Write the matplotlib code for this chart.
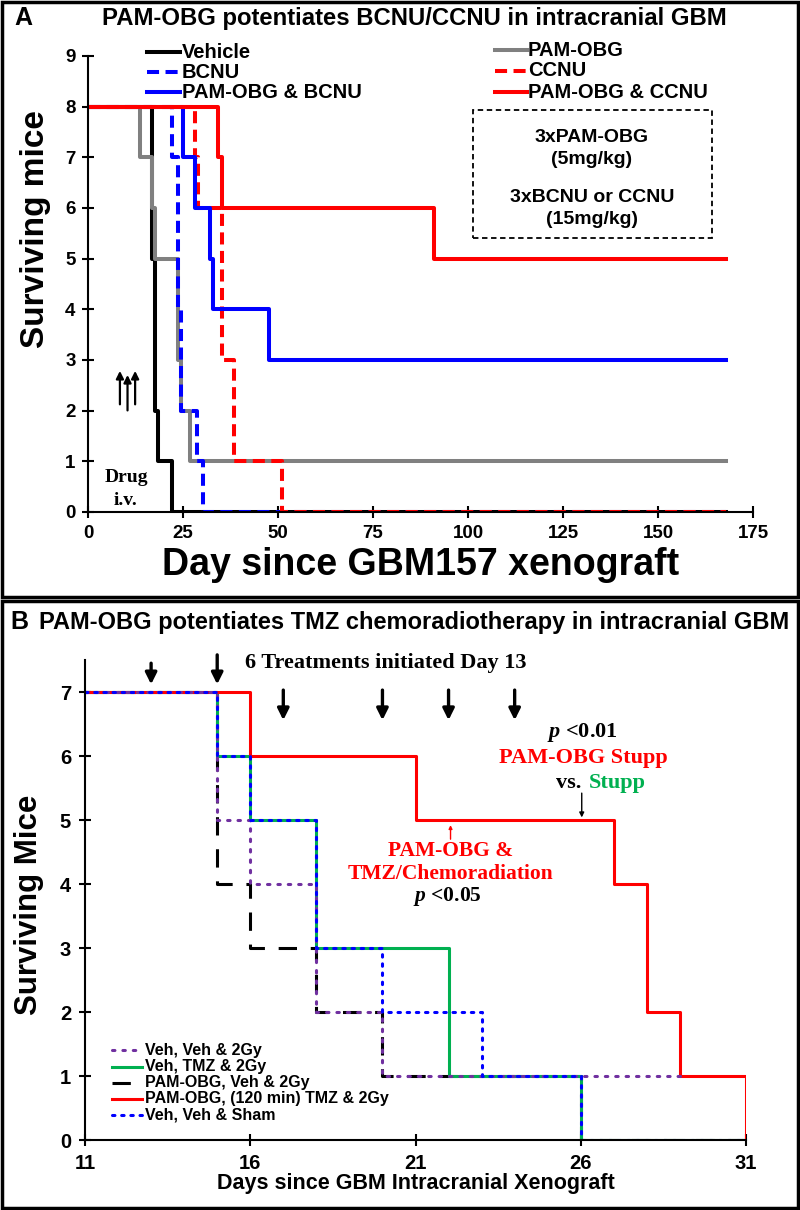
import matplotlib
matplotlib.use("Agg")
import matplotlib.pyplot as plt
from matplotlib.lines import Line2D
from matplotlib.patches import Rectangle

plt.rcParams['font.family'] = ['Liberation Sans', 'DejaVu Sans']
plt.rcParams['mathtext.fontset'] = 'custom'
plt.rcParams['mathtext.it'] = 'Liberation Serif:italic:bold'
plt.rcParams['mathtext.rm'] = 'Liberation Serif:bold'
SERIF = ['Liberation Serif', 'DejaVu Serif']

# ---------------- Panel A data ----------------
a_title = "PAM-OBG potentiates BCNU/CCNU in intracranial GBM"
a_end = 168
vehicle_t = [0, 16.8, 17.6, 18.4, 22.0, a_end]
vehicle_v = [8, 5, 2, 1, 0, 0]
pamobg_t = [0, 13.7, 16.8, 17.6, 23.8, 24.5, 26.8, a_end]
pamobg_v = [8, 7, 6, 5, 3, 2, 1, 1]
bcnu_t = [0, 22.0, 23.8, 24.5, 28.6, 30.2, a_end]
bcnu_v = [8, 7, 4, 2, 1, 0, 0]
ccnu_t = [0, 28.2, 29.0, 35.2, 37.8, 38.4, 51.0, a_end]
ccnu_v = [8, 7, 6, 3, 3, 1, 0, 0]
pam_bcnu_t = [0, 25.1, 28.2, 32.1, 33.0, 47.5, a_end]
pam_bcnu_v = [8, 7, 6, 5, 4, 3, 3]
pam_ccnu_t = [0, 34.2, 35.2, 91.0, a_end]
pam_ccnu_v = [8, 7, 6, 5, 5]
a_xticks = [0, 25, 50, 75, 100, 125, 150, 175]
a_yticks = list(range(0, 10))
a_legend_col1 = ['Vehicle', 'BCNU', 'PAM-OBG & BCNU']
a_legend_col2 = ['PAM-OBG', 'CCNU', 'PAM-OBG & CCNU']
a_box_lines = ['3xPAM-OBG', '(5mg/kg)', '3xBCNU or CCNU', '(15mg/kg)']

# ---------------- Panel B data ----------------
b_title = "PAM-OBG potentiates TMZ chemoradiotherapy in intracranial GBM"
veh_veh_2gy_t = [11, 15, 16, 18, 20, 29]
veh_veh_2gy_v = [7, 5, 4, 2, 1, 1]
veh_tmz_2gy_t = [11, 15, 16, 18, 22, 26, 31]
veh_tmz_2gy_v = [7, 6, 5, 3, 1, 0, 0]
pam_veh_2gy_t = [11, 15, 16, 18, 20, 26, 31]
pam_veh_2gy_v = [7, 4, 3, 2, 1, 0, 0]
pam_tmz_2gy_t = [11, 16, 21, 27, 28, 29, 31, 31]
pam_tmz_2gy_v = [7, 6, 5, 4, 2, 1, 0, 0]
veh_veh_sham_t = [11, 15, 16, 18, 20, 23, 26, 31]
veh_veh_sham_v = [7, 6, 5, 3, 2, 1, 0, 0]
treatment_days = [13, 15, 17, 20, 22, 24]
b_xticks = [11, 16, 21, 26, 31]
b_yticks = list(range(0, 8))
b_legend = ['Veh, Veh & 2Gy', 'Veh, TMZ & 2Gy', 'PAM-OBG, Veh & 2Gy',
            'PAM-OBG, (120 min) TMZ & 2Gy', 'Veh, Veh & Sham']

W, H = 800, 1210
fig = plt.figure(figsize=(W / 100, H / 100), dpi=100)


def fx(px):
    return px / W


def fy(py):
    return 1 - py / H


# panel borders
for (y0, y1) in [(2, 597), (601, 1208)]:
    fig.add_artist(Rectangle((fx(2), fy(y1)), fx(796), (y1 - y0) / H,
                             transform=fig.transFigure, fill=False, lw=2.5, ec='black'))

# ================= Panel A =================
axA = fig.add_axes([fx(88), fy(512), fx(753 - 88), (512 - 56) / H])
lwA = 2.9
styleA = {
    'Vehicle': dict(color='black', lw=lwA),
    'PAM-OBG': dict(color='#808080', lw=lwA),
    'BCNU': dict(color='#0000ff', lw=lwA, ls=(0, (3, 1.6))),
    'CCNU': dict(color='#ff0000', lw=lwA, ls=(0, (3, 1.6))),
    'PAM-OBG & BCNU': dict(color='#0000ff', lw=lwA),
    'PAM-OBG & CCNU': dict(color='#ff0000', lw=lwA),
}
axA.step(vehicle_t, vehicle_v, where='post', **styleA['Vehicle'])
axA.step(pamobg_t, pamobg_v, where='post', **styleA['PAM-OBG'])
axA.step(bcnu_t, bcnu_v, where='post', **styleA['BCNU'])
axA.step(ccnu_t, ccnu_v, where='post', **styleA['CCNU'])
axA.step(pam_bcnu_t, pam_bcnu_v, where='post', **styleA['PAM-OBG & BCNU'])
axA.step(pam_ccnu_t, pam_ccnu_v, where='post', **styleA['PAM-OBG & CCNU'])
axA.set_xlim(0, 175)
axA.set_ylim(0, 9)
axA.set_xticks(a_xticks)
axA.set_yticks(a_yticks)
for s in ['top', 'right']:
    axA.spines[s].set_visible(False)
for s in ['left', 'bottom']:
    axA.spines[s].set_linewidth(1.5)
axA.tick_params(direction='inout', length=8, width=1.5, labelsize=13.5, pad=5)
for lab in axA.get_xticklabels() + axA.get_yticklabels():
    lab.set_fontweight('bold')
axA.set_ylabel('Surviving mice', fontsize=24, fontweight='bold', labelpad=0)
axA.yaxis.set_label_coords(-0.055, 0.62)
axA.set_xlabel('Day since GBM157 xenograft', fontsize=27, fontweight='bold', labelpad=4)

# legend (manual, two columns)
for labels, hx0, hx1, tx, rows in [(a_legend_col1, 147, 180, 182, [52, 72, 92]),
                                   (a_legend_col2, 495, 527, 528, [50, 71, 92])]:
    for lab, ry in zip(labels, rows):
        fig.add_artist(Line2D([fx(hx0), fx(hx1)], [fy(ry), fy(ry)], transform=fig.transFigure,
                              **styleA[lab]))
        fig.text(fx(tx), fy(ry), lab, ha='left', va='center', fontsize=14.5, fontweight='bold')

# dashed box
fig.add_artist(Rectangle((fx(473), fy(238)), fx(712 - 473), (238 - 110) / H,
                         transform=fig.transFigure, fill=False, ls=(0, (3, 2)), lw=1.3, ec='black'))
for txt, yy in zip(a_box_lines, [138, 160, 197, 219]):
    fig.text(fx(592), fy(yy), txt, ha='center', va='center', fontsize=14, fontweight='bold')

# drug arrows
for xd, ytop, ybot in [(8.4, 2.84, 2.07), (10.4, 2.76, 1.95), (12.4, 2.84, 2.07)]:
    axA.annotate('', xy=(xd, ytop), xytext=(xd, ybot),
                 arrowprops=dict(arrowstyle='-|>', color='black', lw=1.6, mutation_scale=11))
axA.text(10.0, 0.69, 'Drug', ha='center', va='center', fontsize=14, fontweight='bold', family=SERIF)
axA.text(10.0, 0.22, 'i.v.', ha='center', va='center', fontsize=14, fontweight='bold', family=SERIF)

fig.text(fx(14), fy(18), 'A', fontsize=18, fontweight='bold', ha='left', va='center')
fig.text(fx(414), fy(18), a_title, fontsize=17.2, fontweight='bold', ha='center', va='center')

# ================= Panel B =================
axB = fig.add_axes([fx(85), fy(1140), fx(746 - 85), (1140 - 660) / H])
lwB = 2.2
styleB = {
    'PAM-OBG, Veh & 2Gy': dict(color='black', lw=lwB, ls=(0, (6, 4.5))),
    'Veh, TMZ & 2Gy': dict(color='#00b050', lw=lwB),
    'PAM-OBG, (120 min) TMZ & 2Gy': dict(color='#ff0000', lw=lwB),
    'Veh, Veh & 2Gy': dict(color='#7030a0', lw=lwB, ls=(0, (0.8, 2.6)), dash_capstyle='round'),
    'Veh, Veh & Sham': dict(color='#0000ff', lw=lwB, ls=(0, (0.8, 2.2)), dash_capstyle='round'),
}
axB.step(pam_veh_2gy_t, pam_veh_2gy_v, where='post', **styleB['PAM-OBG, Veh & 2Gy'])
axB.step(veh_tmz_2gy_t, veh_tmz_2gy_v, where='post', **styleB['Veh, TMZ & 2Gy'])
axB.step(pam_tmz_2gy_t, pam_tmz_2gy_v, where='post', **styleB['PAM-OBG, (120 min) TMZ & 2Gy'])
axB.step(veh_veh_2gy_t, veh_veh_2gy_v, where='post', **styleB['Veh, Veh & 2Gy'])
axB.step(veh_veh_sham_t, veh_veh_sham_v, where='post', **styleB['Veh, Veh & Sham'])
axB.set_xlim(11, 31)
axB.set_ylim(0, 7.5)
axB.set_xticks(b_xticks)
axB.set_yticks(b_yticks)
for s in ['top', 'right']:
    axB.spines[s].set_visible(False)
for s in ['left', 'bottom']:
    axB.spines[s].set_linewidth(1.5)
axB.tick_params(direction='inout', length=8, width=1.5, labelsize=14.5, pad=6)
for lab in axB.get_xticklabels() + axB.get_yticklabels():
    lab.set_fontweight('bold')
axB.set_ylabel('Surviving Mice', fontsize=22.5, fontweight='bold', labelpad=0)
axB.yaxis.set_label_coords(-0.062, 0.49)
axB.set_xlabel('Days since GBM Intracranial Xenograft', fontsize=15.5, fontweight='bold', labelpad=0)

# legend (manual)
for lab, ry in zip(b_legend, [1050, 1067, 1083, 1099, 1115]):
    fig.add_artist(Line2D([fx(112), fx(142)], [fy(ry), fy(ry)], transform=fig.transFigure,
                          **styleB[lab]))
    fig.text(fx(145), fy(ry), lab, ha='left', va='center', fontsize=11.5, fontweight='bold')

# treatment arrows
for i, d in enumerate(treatment_days):
    top, bot = ((7.45, 7.12) if i == 0 else (7.58, 7.12)) if i < 2 else (7.03, 6.56)
    axB.annotate('', xy=(d, bot), xytext=(d, top), annotation_clip=False,
                 arrowprops=dict(arrowstyle='-|>', color='black', lw=2.4, mutation_scale=17,
                                 shrinkA=0, shrinkB=0))
axB.text(20.1, 7.45, '6 Treatments initiated Day 13', ha='center', va='center', fontsize=16,
         fontweight='bold', family=SERIF, clip_on=False)

# p < 0.01 annotation
axB.text(26.06, 6.375, r'$p$ <0.01', ha='center', va='center', fontsize=16,
         fontweight='bold', family=SERIF)
axB.text(26.09, 5.97, 'PAM-OBG Stupp', ha='center', va='center', fontsize=16,
         fontweight='bold', family=SERIF, color='#ff0000')
axB.text(26.2, 5.58, 'vs. ', ha='right', va='center', fontsize=16,
         fontweight='bold', family=SERIF, color='black')
axB.text(26.25, 5.58, 'Stupp', ha='left', va='center', fontsize=16,
         fontweight='bold', family=SERIF, color='#00b050')
axB.annotate('', xy=(26.03, 5.04), xytext=(26.03, 5.42),
             arrowprops=dict(arrowstyle='-|>', color='black', lw=1.0, mutation_scale=7,
                             shrinkA=0, shrinkB=0))

# p < 0.05 annotation
axB.annotate('', xy=(22.06, 4.92), xytext=(22.06, 4.7),
             arrowprops=dict(arrowstyle='-|>', color='#ff0000', lw=1.0, mutation_scale=5,
                             shrinkA=0, shrinkB=0))
axB.text(22.06, 4.52, 'PAM-OBG &', ha='center', va='center', fontsize=15.5,
         fontweight='bold', family=SERIF, color='#ff0000')
axB.text(22.06, 4.16, 'TMZ/Chemoradiation', ha='center', va='center', fontsize=15.5,
         fontweight='bold', family=SERIF, color='#ff0000')
axB.text(21.95, 3.81, r'$p$ <0.05', ha='center', va='center', fontsize=15.5,
         fontweight='bold', family=SERIF)

fig.text(fx(10), fy(622), 'B', fontsize=18, fontweight='bold', ha='left', va='center')
fig.text(fx(414), fy(622), b_title, fontsize=17, fontweight='bold', ha='center', va='center')

fig.savefig('out.png', dpi=100)
